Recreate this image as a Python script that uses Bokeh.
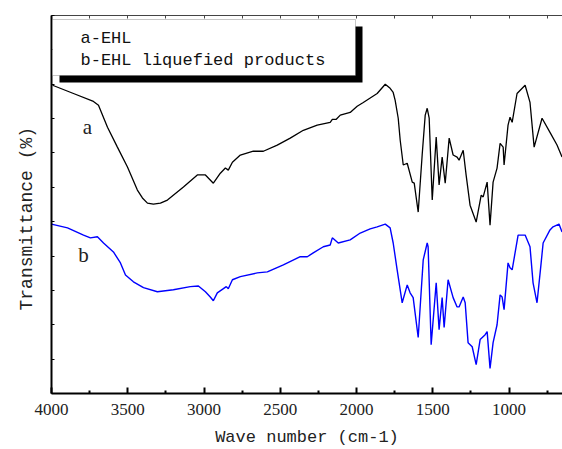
from bokeh.plotting import figure
from bokeh.models import (Range1d, FixedTicker, LinearAxis, Label, BoxAnnotation, Title)
from bokeh.embed import file_html
from bokeh.resources import INLINE

# ---- data (wavenumber cm-1, transmittance arbitrary %) ----
wn_a = [3993, 3856, 3725, 3692, 3633, 3568, 3502, 3437, 3404, 3371, 3332, 3286, 3240, 3135,
        3044, 2991, 2939, 2893, 2860, 2841, 2814, 2762, 2677, 2611, 2520, 2435, 2349, 2258,
        2173, 2159, 2133, 2107, 2042, 1996, 1956, 1865, 1812, 1780, 1760, 1747, 1727, 1714,
        1694, 1668, 1635, 1622, 1596, 1570, 1550, 1537, 1524, 1504, 1478, 1459, 1439, 1419,
        1393, 1367, 1341, 1328, 1301, 1282, 1256, 1216, 1183, 1170, 1144, 1125, 1105, 1079,
        1059, 1039, 1033, 1007, 994, 980, 948, 895, 863, 836, 784, 732, 686, 653]
t_a = [89.7, 87.3, 85.0, 83.9, 77.5, 71.7, 65.9, 59.2, 56.9, 55.4, 55.1, 55.4, 56.3, 60.1,
       63.6, 63.6, 61.2, 64.1, 65.6, 65.0, 67.3, 69.4, 70.5, 70.5, 72.3, 74.3, 76.6, 78.1,
       78.9, 79.8, 79.8, 81.0, 81.8, 83.6, 84.7, 87.3, 90.0, 88.8, 87.6, 85.3, 80.1, 73.7,
       66.5, 67.0, 61.5, 61.2, 52.8, 69.4, 81.0, 83.0, 80.1, 56.3, 74.6, 60.7, 68.8, 61.2,
       74.3, 69.4, 68.8, 67.9, 70.8, 63.6, 54.8, 49.9, 57.7, 57.2, 61.5, 49.0, 61.5, 65.6,
       72.8, 71.7, 66.5, 78.1, 80.4, 78.9, 87.3, 89.7, 84.7, 71.7, 80.1, 76.0, 72.3, 68.8]

wn_b = [4000, 3895, 3790, 3745, 3699, 3659, 3594, 3548, 3515, 3463, 3397, 3306, 3201, 3090,
        3037, 2991, 2959, 2939, 2913, 2873, 2854, 2841, 2814, 2762, 2651, 2585, 2480, 2369,
        2323, 2284, 2218, 2173, 2159, 2120, 2042, 1976, 1911, 1865, 1812, 1780, 1760, 1734,
        1701, 1668, 1649, 1629, 1596, 1563, 1537, 1531, 1511, 1478, 1459, 1439, 1426, 1400,
        1367, 1341, 1328, 1301, 1288, 1269, 1242, 1216, 1190, 1157, 1144, 1125, 1105, 1079,
        1059, 1046, 1033, 1007, 994, 980, 941, 915, 895, 863, 843, 817, 790, 777, 732, 712,
        673, 653]
t_b = [49.3, 48.2, 46.1, 45.3, 45.6, 43.8, 41.2, 38.0, 34.5, 32.5, 30.8, 29.6, 30.2, 31.1,
       31.3, 29.6, 28.1, 27.0, 29.3, 30.5, 31.1, 30.5, 33.1, 34.0, 35.1, 35.4, 37.4, 39.8,
       39.8, 40.9, 42.7, 43.2, 45.3, 43.8, 44.7, 46.7, 47.9, 48.5, 49.3, 48.2, 43.8, 36.0,
       26.4, 31.6, 29.3, 27.9, 16.3, 38.9, 43.8, 42.7, 14.2, 32.2, 18.6, 27.9, 19.2, 33.1,
       27.9, 25.2, 25.2, 28.1, 26.4, 14.8, 13.6, 8.4, 15.7, 17.1, 18.0, 7.3, 14.8, 20.0,
       28.7, 28.1, 24.4, 38.0, 36.6, 36.0, 46.1, 46.1, 46.1, 42.7, 32.2, 26.4, 38.0, 43.8,
       47.6, 48.5, 49.3, 47.0]

x_ticks = [4000, 3500, 3000, 2500, 2000, 1500, 1000]
x_minor = [3750, 3250, 2750, 2250, 1750, 1250, 750]
y_ticks = [0, 10, 20, 30, 40, 50, 60, 70, 80, 90, 100, 110]
top_ticks = [4000, 3750, 3500, 3250, 3000, 2750, 2500, 2250, 2000, 1750, 1500, 1250, 1000, 750]

legend_a = "a-EHL"
legend_b = "b-EHL liquefied products"
x_title = "Wave number (cm-1)"
y_title = "Transmittance (%)"

MONO = "Liberation Mono"
SERIF = "Liberation Serif"

p = figure(width=562, height=449, output_backend="svg", toolbar_location=None,
           x_range=Range1d(4000, 650), y_range=Range1d(0, 110),
           min_border_left=51, min_border_right=0, min_border_top=15, min_border_bottom=55,
           x_axis_location=None, y_axis_location=None)
p.xgrid.visible = False
p.ygrid.visible = False
p.outline_line_color = None
p.background_fill_color = "white"
p.border_fill_color = "white"

# bottom axis
xa = LinearAxis(ticker=FixedTicker(ticks=x_ticks, minor_ticks=x_minor))
xa.axis_line_width = 2
xa.axis_line_color = "black"
xa.major_tick_in = 6
xa.major_tick_out = 0
xa.minor_tick_in = 3
xa.minor_tick_out = 0
xa.major_tick_line_width = 2
xa.minor_tick_line_width = 2
xa.major_label_text_font = SERIF
xa.major_label_text_font_size = "17px"
xa.major_label_text_color = "#222222"
xa.major_label_standoff = 10
xa.axis_label = x_title
xa.axis_label_text_font = MONO
xa.axis_label_text_font_size = "17px"
xa.axis_label_text_font_style = "normal"
xa.axis_label_text_color = "#222222"
xa.axis_label_standoff = 10
p.add_layout(xa, "below")

# left axis (ticks only, labels hidden)
ya = LinearAxis(ticker=FixedTicker(ticks=y_ticks, minor_ticks=[]))
ya.axis_line_width = 2
ya.axis_line_color = "black"
ya.major_tick_in = 3
ya.major_tick_out = 0
ya.major_tick_line_width = 1
ya.minor_tick_in = 0
ya.minor_tick_out = 0
ya.major_label_text_font_size = "1px"
ya.major_label_text_color = None
ya.major_label_standoff = 0
p.add_layout(ya, "left")

# y title as a side title (offset places it a little lower, as in the reference)
p.add_layout(Title(text=y_title, align="left", offset=83, standoff=29,
                   text_font=MONO, text_font_size="18px", text_font_style="normal",
                   text_color="#222222"), "left")

# top axis (ticks only)
ta = LinearAxis(ticker=FixedTicker(ticks=top_ticks, minor_ticks=[]))
ta.axis_line_width = 1
ta.axis_line_color = "#444444"
ta.major_tick_in = 3
ta.major_tick_out = 0
ta.major_tick_line_color = "#444444"
ta.minor_tick_in = 0
ta.minor_tick_out = 0
ta.major_label_text_font_size = "1px"
ta.major_label_text_color = None
ta.major_label_standoff = 0
p.add_layout(ta, "above")

# spectra
p.line(wn_a, t_a, line_color="black", line_width=1.3)
p.line(wn_b, t_b, line_color="#0000ff", line_width=1.4)

# legend box with shadow
p.add_layout(BoxAnnotation(left=8, right=311, top=367, bottom=311,
                           left_units="screen", right_units="screen",
                           top_units="screen", bottom_units="screen",
                           fill_color="black", fill_alpha=1.0, line_color=None, level="overlay"))
p.add_layout(BoxAnnotation(left=1, right=304, top=374, bottom=318,
                           left_units="screen", right_units="screen",
                           top_units="screen", bottom_units="screen",
                           fill_color="white", fill_alpha=1.0, line_color="#444444",
                           line_width=1, level="overlay"))
for txt, sy in [(legend_a, 355), (legend_b, 333)]:
    p.add_layout(Label(x=29, y=sy, x_units="screen", y_units="screen", text=txt,
                       text_font=MONO, text_font_size="17px", text_color="#111111",
                       text_baseline="middle", text_align="left", level="overlay"))

# curve labels
p.add_layout(Label(x=36, y=267, x_units="screen", y_units="screen", text="a",
                   text_font=SERIF, text_font_size="21px", text_color="#222222",
                   text_baseline="middle", text_align="center"))
p.add_layout(Label(x=32, y=139, x_units="screen", y_units="screen", text="b",
                   text_font=SERIF, text_font_size="21px", text_color="#222222",
                   text_baseline="middle", text_align="center"))

open("out.html", "w").write(file_html(p, INLINE))
